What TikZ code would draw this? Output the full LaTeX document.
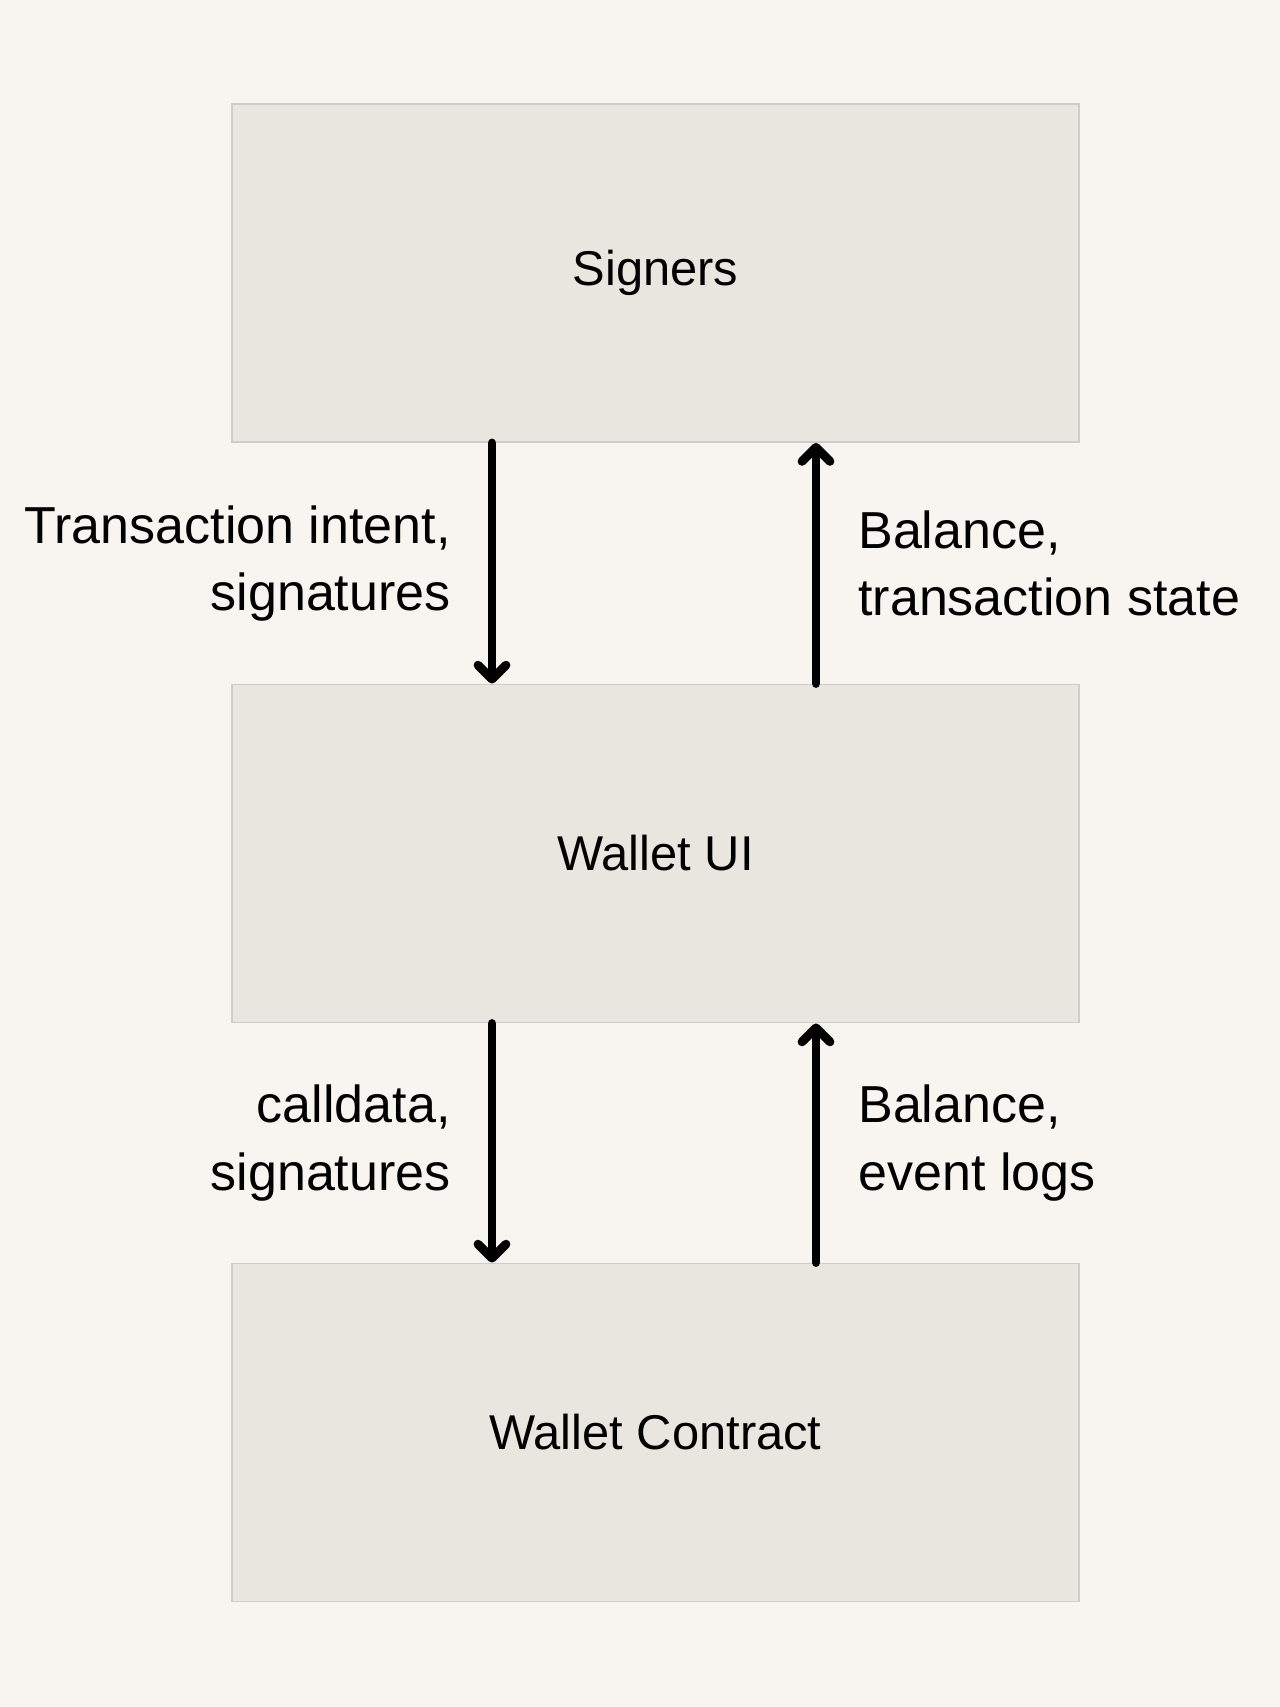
\documentclass[tikz,border=0pt]{standalone}
\usepackage{fontspec}
\setmainfont{Liberation Sans}
\usetikzlibrary{arrows.meta}

\definecolor{paper}{HTML}{F8F5F0}
\definecolor{boxfill}{HTML}{E9E6E0}
\definecolor{boxline}{HTML}{CFCBD0}

\begin{document}
\begin{tikzpicture}[
  font=\fontsize{29.6}{38.4}\selectfont,
  layer/.style={draw=boxline, line width=1.1pt, fill=boxfill,
                font=\fontsize{27.8}{34}\selectfont,
                minimum width=16.94cm, minimum height=6.76cm, inner sep=0pt},
  lbl/.style={align=left, inner sep=0pt},
  lblr/.style={align=right, inner sep=0pt},
  flow/.style={line width=5pt, line cap=round,
               -{Straight Barb[length=0.28cm, width=0.56cm, round]}}
]

% canvas
\fill[paper] (0,0) rectangle (25.6,-34.14);
\useasboundingbox (0,0) rectangle (25.6,-34.14);

% stack
\node[layer] (signers) at (13.11,-5.46)  {Signers};
\node[layer] (ui) at (13.11,-17.07)      {Wallet UI};
\node[layer] (contract) at (13.11,-28.65) {Wallet Contract};

% signers <-> ui
\draw[flow] ([xshift=-3.27cm]signers.south) -- ([xshift=-3.27cm]ui.north);
\draw[flow] ([xshift=3.21cm]ui.north) -- ([xshift=3.21cm]signers.south);
\node[lblr, anchor=east] (intent) at (9.02,-11.27) {Transaction intent,\\signatures};
\node[lbl, anchor=west] (state) at (17.16,-11.27)  {Balance,\\transaction state};

% ui <-> contract
\draw[flow] ([xshift=-3.27cm]ui.south) -- ([xshift=-3.27cm]contract.north);
\draw[flow] ([xshift=3.21cm]contract.north) -- ([xshift=3.21cm]ui.south);
\node[lblr, anchor=east] (calldata) at (9.02,-22.86) {calldata,\\signatures};
\node[lbl, anchor=west] (logs) at (17.16,-22.86)     {Balance,\\event logs};

\end{tikzpicture}
\end{document}
